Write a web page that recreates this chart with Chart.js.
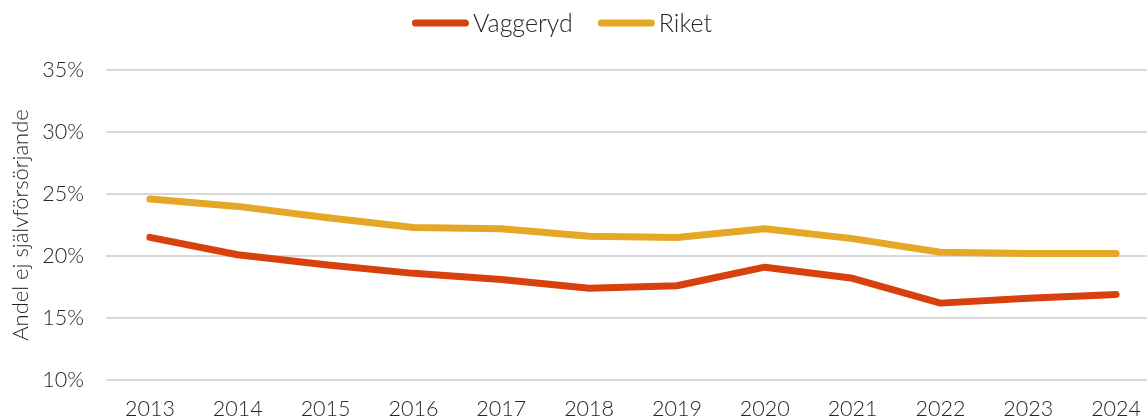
<!DOCTYPE html>
<html lang="sv">
<head>
<meta charset="utf-8">
<title>Andel ej självförsörjande</title>
<script src="https://cdn.jsdelivr.net/npm/chart.js@4/dist/chart.umd.min.js"></script>
<style>
  html, body { margin: 0; padding: 0; background: #ffffff; overflow: hidden; }
  #wrap { width: 1160px; height: 420px; position: relative; }
</style>
</head>
<body>
<div id="wrap"><canvas id="chart" width="1160" height="420"></canvas></div>
<script>
// Years on the x axis
const years = ['2013', '2014', '2015', '2016', '2017', '2018', '2019', '2020', '2021', '2022', '2023', '2024'];

// Share not self-supporting, percent
const vaggeryd = [21.5, 20.1, 19.3, 18.6, 18.1, 17.4, 17.6, 19.1, 18.2, 16.2, 16.6, 16.9];
const riket    = [24.6, 24.0, 23.1, 22.3, 22.2, 21.6, 21.5, 22.2, 21.4, 20.3, 20.2, 20.2];

// Y axis range and step, percent
const yMin = 10;
const yMax = 35;
const yStep = 5;

const FONT = 'Lato, "Open Sans", "Noto Sans", sans-serif';
const TEXT = '#262626';
const RED = '#D8400E';
const GOLD = '#E5A826';

// Legend drawn as short rounded line swatches with the label right next to them
const lineLegend = {
  id: 'lineLegend',
  afterDraw(chart) {
    const ctx = chart.ctx;
    const swatch = 57, gapText = 4, gapItem = 25, y = 23;
    ctx.save();
    ctx.font = '300 25px ' + FONT;
    ctx.textBaseline = 'middle';
    const items = chart.data.datasets.map(ds => ({
      label: ds.label, color: ds.borderColor,
      w: swatch + gapText + ctx.measureText(ds.label).width
    }));
    const total = items.reduce((a, it) => a + it.w, 0) + gapItem * (items.length - 1);
    let x = 562 - total / 2;
    items.forEach(it => {
      ctx.strokeStyle = it.color;
      ctx.lineWidth = 7;
      ctx.lineCap = 'round';
      ctx.beginPath();
      ctx.moveTo(x + 3.5, y);
      ctx.lineTo(x + swatch - 3.5, y);
      ctx.stroke();
      ctx.fillStyle = TEXT;
      ctx.fillText(it.label, x + swatch + gapText, y + 1);
      x += it.w + gapItem;
    });
    ctx.restore();
  }
};

new Chart(document.getElementById('chart'), {
  type: 'line',
  data: {
    labels: years,
    datasets: [
      {
        label: 'Vaggeryd',
        data: vaggeryd,
        borderColor: RED,
        backgroundColor: RED,
        borderWidth: 7,
        borderCapStyle: 'round',
        borderJoinStyle: 'round',
        pointRadius: 0,
        tension: 0
      },
      {
        label: 'Riket',
        data: riket,
        borderColor: GOLD,
        backgroundColor: GOLD,
        borderWidth: 7,
        borderCapStyle: 'round',
        borderJoinStyle: 'round',
        pointRadius: 0,
        tension: 0
      }
    ]
  },
  plugins: [lineLegend],
  options: {
    responsive: false,
    animation: false,
    layout: { padding: { top: 70, left: 0, right: 0, bottom: 0 } },
    plugins: {
      legend: { display: false },
      tooltip: { enabled: false }
    },
    scales: {
      x: {
        offset: true,
        grid: { display: false, drawTicks: false },
        border: { display: false },
        ticks: {
          color: TEXT,
          padding: 16,
          maxRotation: 0,
          autoSkip: false,
          font: { family: FONT, size: 21.5, weight: 300 }
        },
        afterFit: (s) => { s.height = 40; }
      },
      y: {
        min: yMin,
        max: yMax,
        grid: { color: '#D9D9D9', lineWidth: 2, drawTicks: false },
        border: { display: false },
        ticks: {
          stepSize: yStep,
          color: TEXT,
          padding: 22,
          font: { family: FONT, size: 21.5, weight: 300 },
          callback: (v) => v + '%'
        },
        title: {
          display: true,
          text: 'Andel ej självförsörjande',
          color: TEXT,
          padding: { top: 8, bottom: 0 },
          font: { family: FONT, size: 22, weight: 300 }
        },
        afterFit: (s) => { s.width = 106; }
      }
    }
  }
});
</script>
</body>
</html>
